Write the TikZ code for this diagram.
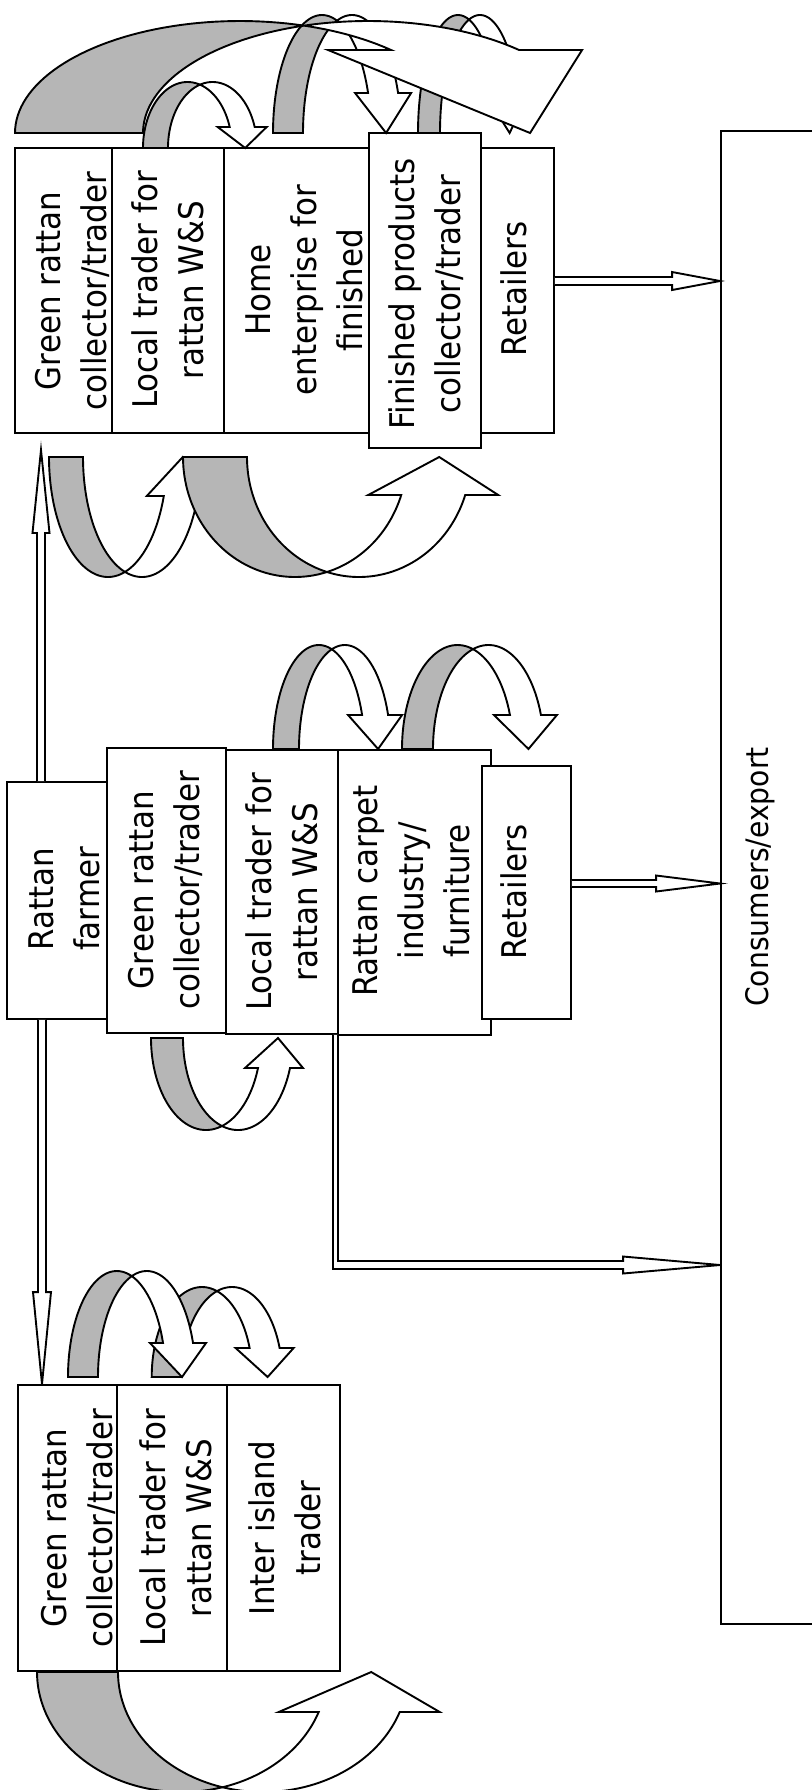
\documentclass[tikz,border=0pt]{standalone}
\usepackage{fontspec}
\setmainfont[FakeStretch=0.91]{DejaVu Sans}
\usetikzlibrary{calc,fit}
\definecolor{bandgray}{RGB}{182,182,182}

\tikzset{
  stagebox/.style={draw, fill=white, inner sep=0pt},
  stagetext/.style={rotate=90, align=center, inner sep=0pt,
                    font=\fontsize{17pt}{23pt}\selectfont},
  backside/.style={draw, fill=bandgray},
  frontside/.style={draw, fill=white, line join=miter},
}

% Twisted ribbon arrow built from two equal ellipses shifted by the band width.
% #1 centre x of first ellipse, #2 x radius, #3 y radius, #4 band width,
% #5 baseline y, #6 head base distance from baseline, #7 barb overhang,
% #8 tip shift, #9 direction (1 = loop above baseline, -1 = loop below)
\newcommand\bentarrow[9]{%
  \pgfmathsetmacro\bac{#1}\pgfmathsetmacro\barx{#2}\pgfmathsetmacro\bary{#3}%
  \pgfmathsetmacro\baw{#4}\pgfmathsetmacro\bay{#5}\pgfmathsetmacro\bah{#6}%
  \pgfmathsetmacro\bae{#7}\pgfmathsetmacro\badx{#8}\pgfmathsetmacro\bas{#9}%
  \pgfmathsetmacro\batc{acos(\baw/(2*\barx))}%
  \pgfmathsetmacro\basc{180-\batc}%
  \pgfmathsetmacro\bath{asin(\bah/\bary)}%
  \pgfmathsetmacro\baxi{\bac+\barx*cos(\bath)}%
  \pgfmathsetmacro\baxo{\baxi+\baw}%
  \pgfmathsetmacro\bayb{\bay-(\bas)*\bah}%
  \pgfmathsetmacro\batx{(\baxi+\baxo)/2+\badx}%
  \path[backside] plot[domain=180:\batc, samples=48]
      ({\bac+\barx*cos(\x)}, {\bay-(\bas)*\bary*sin(\x)})
    -- plot[domain=\basc:180, samples=48]
      ({\bac+\baw+\barx*cos(\x)}, {\bay-(\bas)*\bary*sin(\x)}) -- cycle;
  \path[frontside] plot[domain=\basc:\bath, samples=48]
      ({\bac+\baw+\barx*cos(\x)}, {\bay-(\bas)*\bary*sin(\x)})
    -- (\baxo+\bae, \bayb) -- (\batx, \bay) -- (\baxi-\bae, \bayb)
    -- plot[domain=\bath:\batc, samples=32]
      ({\bac+\barx*cos(\x)}, {\bay-(\bas)*\bary*sin(\x)}) -- cycle;
}

% Outlined block arrow from #1 to #2: shaft half width #3, head half width #4, head length #5
\newcommand\blockarrow[5]{%
  \coordinate (ba-hb) at ($(#2)!#5!(#1)$);
  \path[frontside] ($(#1)!#3!90:(#2)$) -- ($(ba-hb)!#3!90:(#2)$) -- ($(ba-hb)!#4!90:(#2)$)
    -- (#2) -- ($(ba-hb)!#4!-90:(#2)$) -- ($(ba-hb)!#3!-90:(#2)$) -- ($(#1)!#3!-90:(#2)$);
}

\begin{document}
\begin{tikzpicture}[x=0.5pt, y=-0.5pt, line width=0.95pt]
\useasboundingbox (0,0) rectangle (812,1790);

% final market
\node[stagebox, fit={(721,131) (850,1624)}] (cons) {};

% upper chain
\node[stagebox, fit={(15,148) (112,433)}] (gA1) {};
\node[stagebox, fit={(112,148) (224,433)}] (gA2) {};
\node[stagebox, fit={(224,148) (369,433)}] (gA3) {};
\node[stagebox, fit={(481,148) (554,433)}] (gA5) {};
\node[stagebox, fit={(369,133) (481,448)}] (gA4) {};

% loops above the upper chain
\bentarrow{322}{49}{118}{30}{133}{40}{13}{3}{1}
\bentarrow{458}{40}{118}{22}{133}{40}{11}{3}{1}
\bentarrow{187.5}{44.5}{66}{25}{148}{21}{12}{3}{1}
\bentarrow{240}{225}{112}{128}{133}{83}{63}{75}{1}

% loops below the upper chain
\bentarrow{108}{59}{120}{34}{457}{39}{17}{2}{-1}
\bentarrow{295}{112}{120}{64}{457}{38}{33}{6}{-1}

% middle chain
\node[stagebox, fit={(7,782) (107,1019)}] (mF) {};
\node[stagebox, fit={(107,748) (226,1033)}] (mG) {};
\node[stagebox, fit={(226,750) (338,1034)}] (mL) {};
\node[stagebox, fit={(338,750) (491,1035)}] (mC) {};
\node[stagebox, fit={(482,766) (571,1019)}] (mR) {};

\bentarrow{318.8}{45.8}{104}{26}{749}{34}{14}{3}{1}
\bentarrow{457.5}{55.5}{104}{31}{749}{34}{16}{3}{1}
\bentarrow{206}{55}{92}{32}{1038}{30}{13}{4}{-1}

% lower chain
\node[stagebox, fit={(18,1385) (117,1671)}] (bG) {};
\node[stagebox, fit={(117,1385) (227,1671)}] (bL) {};
\node[stagebox, fit={(227,1385) (340,1671)}] (bI) {};

\bentarrow{202}{50.3}{90}{30}{1377}{29}{14}{3}{1}
\bentarrow{116.8}{48.8}{106}{30}{1377}{34}{13}{4}{1}
\bentarrow{182}{145}{120}{81}{1672}{40}{40}{12}{-1}

% straight flows
\coordinate (fu0) at (41,0 |- mF.north);
\coordinate (fu1) at ($(41,0 |- gA1.south)+(0,16)$);
\blockarrow{fu0}{fu1}{2pt}{4.25pt}{41.5pt}

\coordinate (fd0) at (42,0 |- mF.south);
\coordinate (fd1) at (42,0 |- bG.north);
\blockarrow{fd0}{fd1}{2pt}{4.5pt}{46pt}

\coordinate (ra0) at (gA5.east |- 0,281);
\coordinate (ra1) at (cons.west |- 0,281);
\blockarrow{ra0}{ra1}{2pt}{4.5pt}{24pt}

\coordinate (rb0) at (mR.east |- 0,883.5);
\coordinate (rb1) at (cons.west |- 0,883.5);
\blockarrow{rb0}{rb1}{1.75pt}{4pt}{32pt}

\coordinate (lA) at (335.5,0 |- mL.south);
\coordinate (lB) at (335.5,1265);
\coordinate (lT) at (cons.west |- lB);
\path[frontside] ($(lA)+(-2.5,0)$) -- ($(lB)+(-2.5,4)$) -- ($(lT)+(-97,4)$)
  -- ($(lT)+(-97,8.5)$) -- (lT) -- ($(lT)+(-97,-8.5)$) -- ($(lT)+(-97,-4)$)
  -- ($(lB)+(2.5,-4)$) -- ($(lA)+(2.5,0)$);

% labels
\node[stagetext] (tA1) at (72.5,291) {Green rattan\\collector/trader};
\node[stagetext] (tA2) at (168,290) {Local trader for\\rattan W\&S};
\node[stagetext] (tA3) at (304.5,290) {Home\\enterprise for\\finished};
\node[stagetext] (tA4) at (426,294) {Finished products\\collector/trader};
\node[stagetext] (tA5) at (513.5,289) {Retailers};

\node[stagetext] (tM0) at (64,899) {Rattan\\farmer};
\node[stagetext] (tM1) at (165,890) {Green rattan\\collector/trader};
\node[stagetext] (tM2) at (282,892) {Local trader for\\rattan W\&S};
\node[stagetext] (tM3) at (411.5,891) {Rattan carpet\\industry/\\furniture};
\node[stagetext] (tM4) at (513.5,892) {Retailers};

\node[stagetext, font=\fontsize{15.5pt}{20pt}\selectfont] (tC) at (760,877) {Consumers/export};

\node[stagetext] (tB1) at (78.5,1528) {Green rattan\\collector/trader};
\node[stagetext] (tB2) at (176,1528) {Local trader for\\rattan W\&S};
\node[stagetext] (tB3) at (285,1528) {Inter island\\trader};
\end{tikzpicture}
\end{document}
